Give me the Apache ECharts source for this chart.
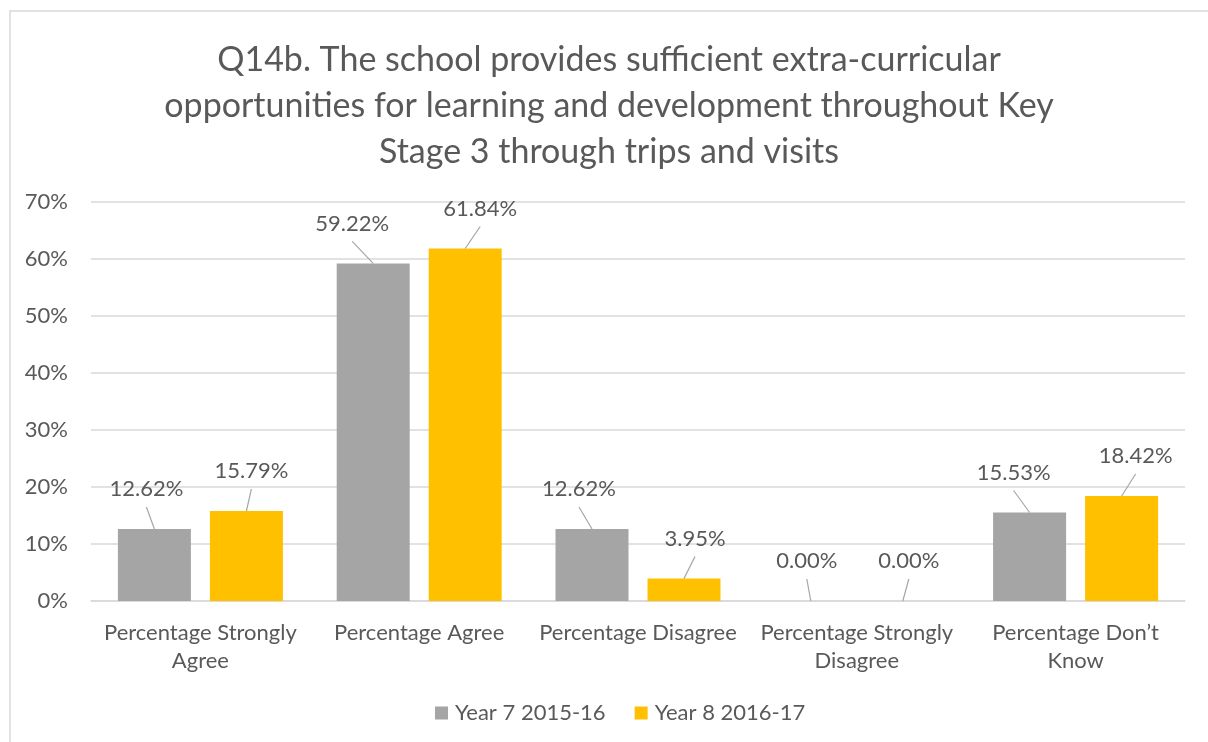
<!DOCTYPE html>
<html>
<head>
<meta charset="utf-8">
<script src="https://cdn.jsdelivr.net/npm/echarts@6/dist/echarts.min.js"></script>
<style>html,body{margin:0;padding:0;background:#fff;}#c{width:1208px;height:742px;}</style>
</head>
<body>
<div id="c"></div>
<script>
var titleLines = ['Q14b. The school provides sufficient extra-curricular', 'opportunities for learning and development throughout Key', 'Stage 3 through trips and visits'];
var categories = ['Percentage Strongly\nAgree', 'Percentage Agree', 'Percentage Disagree', 'Percentage Strongly\nDisagree', 'Percentage Don\u2019t\nKnow'];
var seriesNames = ['Year 7 2015-16', 'Year 8 2016-17'];
var year7 = [12.62, 59.22, 12.62, 0.00, 15.53];
var year8 = [15.79, 61.84, 3.95, 0.00, 18.42];
var yTicks = { min: 0, max: 70, interval: 10 };

var FONT = 'Lato';
var TXT = '#595959';
var BAR_W = 73, BAR_GAP = 19;
var COLORS = ['#a5a5a5', '#ffc000'];
// horizontal nudges of the data-label callouts (style only)
var labelNudge = [[-8, -21, -13, -4, -16], [5, 15, 11, 6, 14]];

var chart = echarts.init(document.getElementById('c'));

function barSeries(name, data, color) {
  return { name: name, type: 'bar', data: data, barWidth: BAR_W, barGap: (BAR_GAP / BAR_W * 100) + '%', itemStyle: { color: color }, z: 2 };
}
function calloutSeries(si, data) {
  var side = si === 0 ? -1 : 1;
  var off = side * (BAR_W + BAR_GAP) / 2;
  return {
    type: 'custom', name: 'callout' + si, z: 5, silent: true,
    data: data.map(function (v, i) { return [i, v]; }),
    encode: { x: 0, y: 1 },
    renderItem: function (params, api) {
      var p = api.coord([api.value(0), api.value(1)]);
      var cx = p[0] + off, top = p[1];
      var dx = labelNudge[si][params.dataIndex];
      return { type: 'group', children: [
        { type: 'line', shape: { x1: cx, y1: top, x2: cx + dx, y2: top - 22 }, style: { stroke: '#a6a6a6', lineWidth: 1.2 } },
        { type: 'text', style: { text: api.value(1).toFixed(2) + '%', x: cx + dx, y: top - 40, textAlign: 'center', textVerticalAlign: 'middle', fontFamily: FONT, fontSize: 22, fill: TXT } }
      ] };
    }
  };
}

chart.setOption({
  animation: false,
  textStyle: { fontFamily: FONT },
  graphic: [
    { type: 'rect', shape: { x: 10, y: 11, width: 1300, height: 900 }, style: { fill: 'none', stroke: '#d9d9d9', lineWidth: 1.5 }, silent: true },
    { type: 'text', x: 609, y: 37, style: { text: titleLines.join('\n'), textAlign: 'center', fontFamily: FONT, fontSize: 34, lineHeight: 46, fill: TXT } }
  ],
  grid: { left: 91, right: 23, top: 202, bottom: 141, containLabel: false },
  legend: {
    left: 435, top: 702, padding: 0, itemWidth: 13, itemHeight: 13, itemGap: 29, icon: 'rect',
    textStyle: { fontFamily: FONT, fontSize: 22, color: TXT, padding: [0, 0, 0, 2] },
    data: seriesNames
  },
  xAxis: {
    type: 'category', data: categories,
    axisLine: { lineStyle: { color: '#d9d9d9', width: 1.5 } },
    axisTick: { show: false },
    axisLabel: { interval: 0, margin: 18, fontFamily: FONT, fontSize: 22, lineHeight: 28, color: TXT }
  },
  yAxis: {
    type: 'value', min: yTicks.min, max: yTicks.max, interval: yTicks.interval,
    axisLine: { show: false }, axisTick: { show: false },
    splitLine: { lineStyle: { color: '#d9d9d9', width: 1.5 } },
    axisLabel: { margin: 23, fontFamily: FONT, fontSize: 22, color: TXT, formatter: '{value}%' }
  },
  series: [
    barSeries(seriesNames[0], year7, COLORS[0]),
    barSeries(seriesNames[1], year8, COLORS[1]),
    calloutSeries(0, year7),
    calloutSeries(1, year8)
  ]
});
</script>
</body>
</html>
